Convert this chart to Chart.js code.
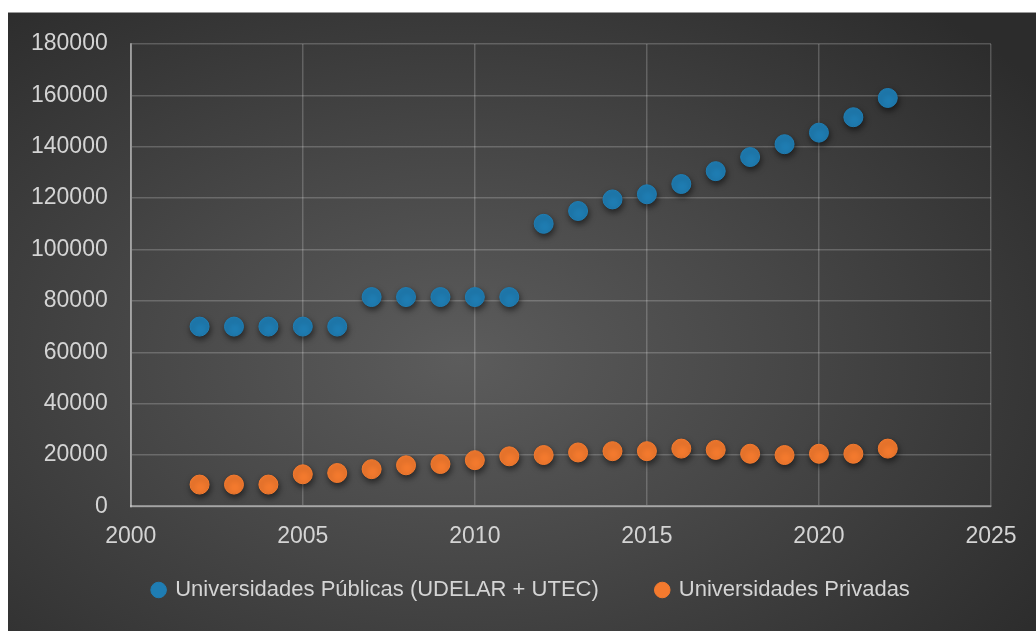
<!DOCTYPE html>
<html>
<head>
<meta charset="utf-8">
<script src="https://cdn.jsdelivr.net/npm/chart.js@4.4.1/dist/chart.umd.min.js"></script>
<style>
  html, body { margin: 0; padding: 0; background: #fff; }
  #wrap {
    position: absolute; left: 8px; top: 12px; width: 1028px; height: 619px;
    border-top: 1px solid #9a9a9a; box-sizing: border-box;
    background: radial-gradient(ellipse 70% 75% at 44% 56%, #5c5c5c 0%, #474747 45%, #2c2c2c 100%);
  }
  canvas { display: block; }
</style>
</head>
<body>
<div id="wrap"><canvas id="chart" width="1028" height="618"></canvas></div>
<script>
const years = [2002, 2003, 2004, 2005, 2006, 2007, 2008, 2009, 2010, 2011, 2012,
  2013, 2014, 2015, 2016, 2017, 2018, 2019, 2020, 2021, 2022];
const publicas = [70000, 70000, 70000, 70000, 70000, 81500, 81500, 81500, 81500, 81500, 110000,
  115000, 119500, 121500, 125500, 130500, 136000, 141000, 145500, 151500, 159000];
const privadas = [8500, 8500, 8500, 12500, 13000, 14500, 16000, 16500, 18000, 19500, 20000,
  21000, 21500, 21500, 22500, 22000, 20500, 20000, 20500, 20500, 22500];
const seriesNames = ['Universidades Públicas (UDELAR + UTEC)', 'Universidades Privadas'];

const toPoints = vals => years.map((y, i) => ({ x: y, y: vals[i] }));

// soft drop shadow under the markers
const shadow = {
  id: 'shadow',
  beforeDatasetsDraw(chart) {
    const c = chart.ctx;
    c.save();
    c.shadowColor = 'rgba(0,0,0,0.55)';
    c.shadowBlur = 6;
    c.shadowOffsetX = 1;
    c.shadowOffsetY = 3;
  },
  afterDatasetsDraw(chart) {
    chart.ctx.restore();
  }
};

// nudge the legend to where Excel put it
const legendShift = {
  id: 'legendShift',
  afterLayout(chart) {
    const lg = chart.legend;
    const dx = 32, newTop = 508;
    const dy = newTop - lg.top;
    lg.left += dx; lg.right += dx;
    lg.top += dy; lg.bottom += dy;
  }
};

const tickFont = { family: 'Liberation Sans', size: 23 };
const grid = { color: 'rgba(255,255,255,0.2)', lineWidth: 1.5, drawTicks: false };
const plain = v => String(v);

new Chart(document.getElementById('chart'), {
  type: 'scatter',
  data: {
    datasets: [{
      label: seriesNames[0],
      data: toPoints(publicas),
      backgroundColor: '#1f7db3',
      borderColor: '#1f7db3',
      pointRadius: 9.5,
      pointHoverRadius: 9.5
    }, {
      label: seriesNames[1],
      data: toPoints(privadas),
      backgroundColor: '#f47a2e',
      borderColor: '#f47a2e',
      pointRadius: 9.5,
      pointHoverRadius: 9.5
    }]
  },
  plugins: [shadow, legendShift],
  options: {
    responsive: false,
    animation: false,
    layout: { padding: { left: 0, right: 45, top: 31, bottom: -25 } },
    scales: {
      x: {
        min: 2000, max: 2025,
        ticks: { stepSize: 5, color: '#d4d4d4', font: tickFont, padding: 16, callback: plain },
        grid: grid,
        border: { color: 'rgba(255,255,255,0.4)', width: 2 }
      },
      y: {
        min: 0, max: 180000,
        ticks: { stepSize: 20000, color: '#d4d4d4', font: tickFont, padding: 23, callback: plain },
        grid: grid,
        border: { color: 'rgba(255,255,255,0.4)', width: 2 },
        afterFit(scale) { scale.paddingTop = 0; scale.paddingBottom = 0; }
      }
    },
    plugins: {
      tooltip: { enabled: false },
      legend: {
        position: 'bottom',
        labels: {
          usePointStyle: true,
          pointStyle: 'circle',
          boxWidth: 11,
          boxHeight: 11,
          padding: 58,
          color: '#d4d4d4',
          font: { family: 'Liberation Sans', size: 22 }
        }
      }
    }
  }
});
</script>
</body>
</html>
